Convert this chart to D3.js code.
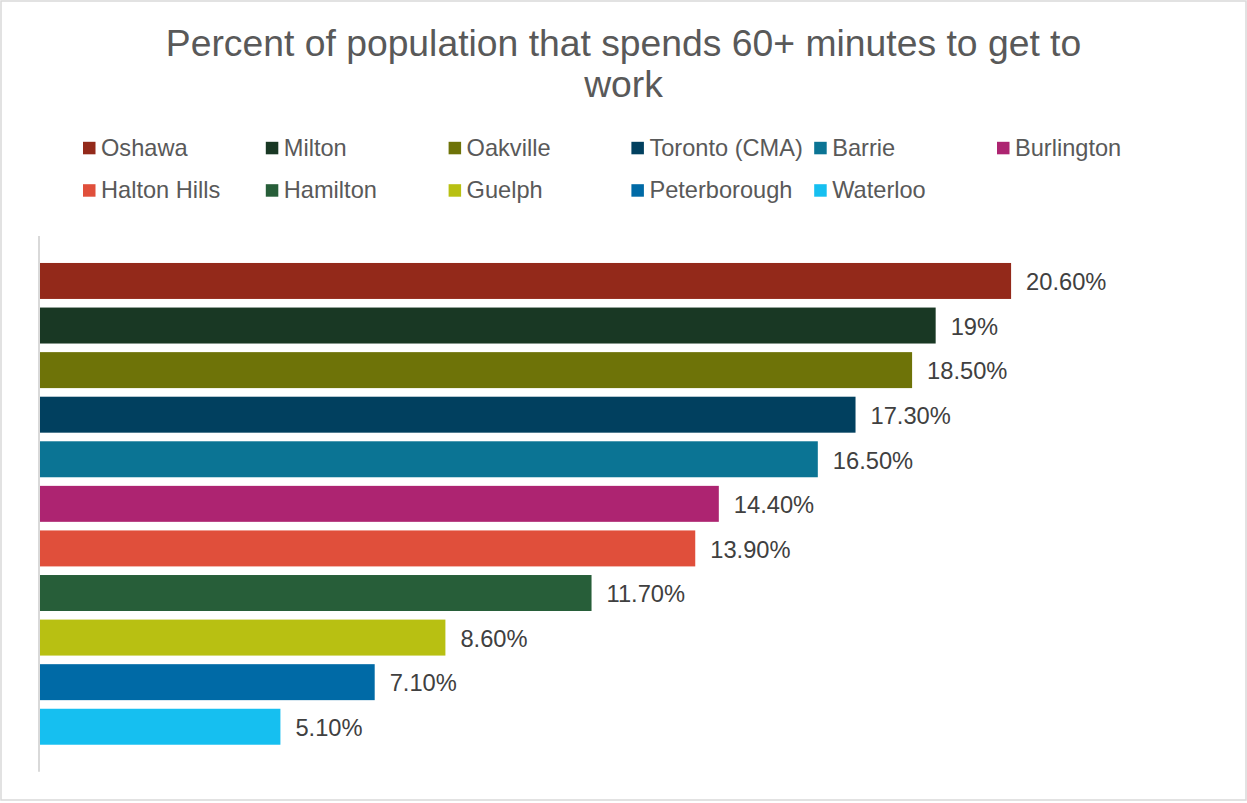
<!DOCTYPE html>
<html>
<head>
<meta charset="utf-8">
<script src="https://cdn.jsdelivr.net/npm/d3@7"></script>
<style>
  html, body { margin: 0; padding: 0; background: #fff; }
  svg { display: block; font-family: "Liberation Sans", Arial, sans-serif; }
</style>
</head>
<body>
<div id="chart"></div>
<script>
// Data
const cities = ["Oshawa", "Milton", "Oakville", "Toronto (CMA)", "Barrie", "Burlington",
                "Halton Hills", "Hamilton", "Guelph", "Peterborough", "Waterloo"];
const values = [20.6, 19, 18.5, 17.3, 16.5, 14.4, 13.9, 11.7, 8.6, 7.1, 5.1];
const valueLabels = ["20.60%", "19%", "18.50%", "17.30%", "16.50%", "14.40%",
                     "13.90%", "11.70%", "8.60%", "7.10%", "5.10%"];
const colors = ["#93291a", "#193824", "#6e7308", "#01405f", "#0b7494", "#ad2471",
                "#e04f3b", "#275e39", "#b8c012", "#006aa6", "#16bff0"];
const titleLines = ["Percent of population that spends 60+ minutes to get to", "work"];

const W = 1247, H = 803;

const svg = d3.select("#chart")
  .append("svg")
  .attr("width", W)
  .attr("height", H);

// chart border
svg.append("rect")
  .attr("x", 1).attr("y", 1)
  .attr("width", W - 2).attr("height", 799)
  .attr("fill", "#fff")
  .attr("stroke", "#d9d9d9")
  .attr("stroke-width", 1.5);

// Title
svg.append("g")
  .selectAll("text")
  .data(titleLines)
  .join("text")
  .attr("x", W / 2)
  .attr("y", (d, i) => 56 + i * 41)
  .attr("text-anchor", "middle")
  .style("font-size", "37.3px")
  .style("fill", "#595959")
  .text(d => d);

// Scales
const x = d3.scaleLinear()
  .domain([0, 25])
  .range([40, 40 + 25 * 47.14]);

const y = d3.scaleBand()
  .domain(cities)
  .range([236, 771.7])
  .paddingInner(0.193)
  .paddingOuter(0.605);

// Bars
svg.append("g")
  .selectAll("rect")
  .data(cities)
  .join("rect")
  .attr("x", x(0))
  .attr("y", d => y(d))
  .attr("width", (d, i) => x(values[i]) - x(0))
  .attr("height", y.bandwidth())
  .attr("fill", (d, i) => colors[i]);

// Data labels
svg.append("g")
  .selectAll("text")
  .data(cities)
  .join("text")
  .attr("x", (d, i) => x(values[i]) + 15)
  .attr("y", d => y(d) + y.bandwidth() / 2 + 1)
  .attr("dy", "0.35em")
  .style("font-size", "23.7px")
  .style("fill", "#404040")
  .text((d, i) => valueLabels[i]);

// Vertical category axis line (no ticks / labels)
svg.append("line")
  .attr("x1", 39).attr("x2", 39)
  .attr("y1", 236).attr("y2", 771.7)
  .attr("stroke", "#d9d9d9")
  .attr("stroke-width", 2);

// Legend: 6 columns, 2 rows
const legend = svg.append("g");
const legendItem = legend.selectAll("g")
  .data(cities)
  .join("g")
  .attr("transform", (d, i) => `translate(${83 + (i % 6) * 182.8},${141.8 + Math.floor(i / 6) * 42.4})`);

legendItem.append("rect")
  .attr("width", 12.5)
  .attr("height", 12.5)
  .attr("fill", (d, i) => colors[i]);

legendItem.append("text")
  .attr("x", 18)
  .attr("y", 13.8)
  .style("font-size", "23.6px")
  .style("fill", "#595959")
  .text(d => d);
</script>
</body>
</html>
